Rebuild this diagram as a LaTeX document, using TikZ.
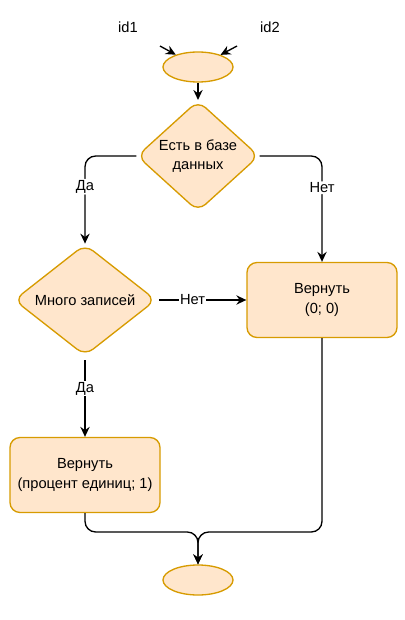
\documentclass[tikz,border=0pt]{standalone}
\usepackage{fontspec}
\setmainfont{Liberation Sans}
\usepackage{tikz}
\usetikzlibrary{positioning, shapes.geometric, arrows.meta}

\definecolor{boxfill}{HTML}{FFE6CC}
\definecolor{boxdraw}{HTML}{D79B00}

\begin{document}
\begin{tikzpicture}[x=0.75pt, y=-0.75pt, line width=1pt,
    -{Stealth[length=7.5pt, width=7pt, inset=2.5pt]}]
		\tikzset{
		    txt/.style= {font=\fontsize{11}{14.3}\selectfont, text=black, align=center},
		    term/.style= {ellipse, draw=boxdraw, fill=boxfill, line width=1pt, minimum width=52.5pt, minimum height=22.5pt, inner sep=0pt},
		    cond/.style= {diamond, draw=boxdraw, fill=boxfill, line width=1pt, rounded corners=7.5pt, inner sep=0pt, txt},
		    retbox/.style= {rectangle, draw=boxdraw, fill=boxfill, line width=1pt, rounded corners=7.5pt, minimum width=112.5pt, minimum height=56.25pt, txt},
		    lbl/.style= {fill=white, inner sep=1pt, txt},
		}
		
		\useasboundingbox (0,0) rectangle (404,620);
		
		\node[txt] (id1) at (128,27) {id1};
		\node[txt] (id2) at (270,27) {id2};
		\coordinate (a1) at (160,46);
		\coordinate (a2) at (237,46);
		
		\node[term] (start) at (198,67) {};
		\node[cond, minimum width=91.5pt, minimum height=72pt] (exists) at (198,156) {Есть в базе\\данных};
		\node[cond, minimum width=106.5pt, minimum height=83.25pt] (many) at (85,300) {Много записей};
		\node[retbox] (retzero) at (322,300) {Вернуть\\(0; 0)};
		\node[retbox] (retpct) at (85,475) {Вернуть\\(процент единиц; 1)};
		\node[term] (stop) at (198,580) {};
		\coordinate (join) at (198,532);
		
		\draw (a1) -- (start);
		\draw (a2) -- (start);
		\draw (start) -- (exists);
		\draw[rounded corners=8pt] (exists.west) -| node[lbl, pos=0.675] {Да} (many.north);
		\draw[rounded corners=8pt] (exists.east) -| node[lbl, pos=0.65] {Нет} (retzero.north);
		\draw[shorten <=2pt] (many.east) -- node[lbl, pos=0.4] {Нет} (retzero.west);
		\draw[shorten <=3pt] (many.south) -- node[lbl, pos=0.4] {Да} (retpct.north);
		\draw[rounded corners=8pt] (retpct.south) |- (join) -- (stop.north);
		\draw[rounded corners=8pt] (retzero.south) |- (join) -- (stop.north);
	\end{tikzpicture}
\end{document}
